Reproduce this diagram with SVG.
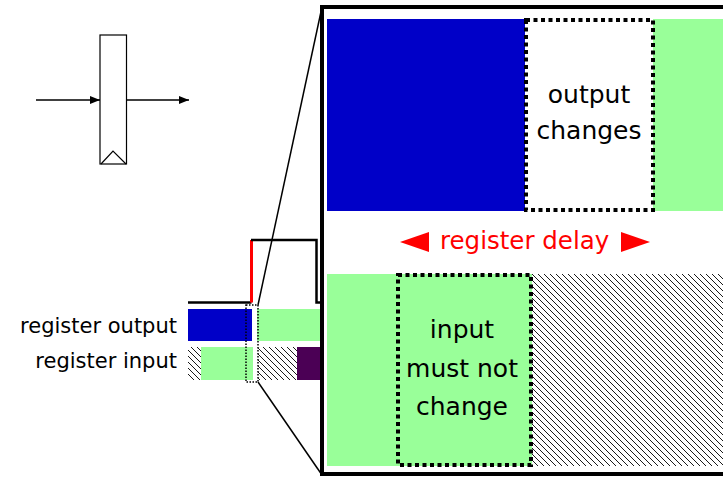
<svg xmlns="http://www.w3.org/2000/svg" width="723" height="479" viewBox="0 0 723 479">
  <style>
    .lbl { font-family: "DejaVu Sans", "Liberation Sans", sans-serif; fill: #000; }
    .big { font-size: 25px; text-anchor: middle; }
    .side { font-size: 21px; text-anchor: end; }
    .red { font-family: "DejaVu Sans", "Liberation Sans", sans-serif; font-size: 24.5px; fill: #ff0000; }
    .green { fill: #99ff99; }
    .blue { fill: #0000c8; }
    .hatch { fill: url(#hatch); }
    .thick-dots { fill: none; stroke: #000; stroke-width: 4; stroke-dasharray: 4 3.5; }
    .wire { fill: none; stroke: #000; stroke-width: 1.5; }
  </style>
  <defs>
    <pattern id="hatch" patternUnits="userSpaceOnUse" width="6" height="6">
      <path d="M-1,-1 L7,7 M-1,5 L1,7 M5,-1 L7,1" stroke="#000" stroke-width="0.9"/>
    </pattern>
    <marker id="arr" viewBox="0 0 10 8" refX="10" refY="4" markerWidth="10" markerHeight="8" markerUnits="userSpaceOnUse" orient="auto">
      <path d="M0,0 L10,4 L0,8 Z" fill="#000"/>
    </marker>
  </defs>

  <!-- register symbol -->
  <g id="register">
    <rect x="100" y="35" width="26.5" height="129" fill="#fff" stroke="#000" stroke-width="1.2"/>
    <path d="M101,164 L113,151 L126,164" fill="none" stroke="#000" stroke-width="1.2"/>
  </g>

  <!-- timing rows -->
  <g id="clock">
    <path d="M188,302.5 L251.5,302.5" fill="none" stroke="#000" stroke-width="2.5"/>
    <path d="M251.5,302.5 L251.5,240" fill="none" stroke="#ff0000" stroke-width="3"/>
    <path d="M251,240 L316.5,240 L316.5,302.5 L322,302.5" fill="none" stroke="#000" stroke-width="2.5"/>
  </g>

  <g id="row-output">
    <text class="lbl side" x="177" y="333">register output</text>
    <rect class="blue" x="188" y="309" width="64" height="32"/>
    <rect class="green" x="257" y="309" width="63" height="32"/>
  </g>

  <g id="row-input">
    <text class="lbl side" x="177" y="368">register input</text>
    <rect class="hatch" x="188" y="347" width="13" height="33"/>
    <rect class="green" x="201" y="347" width="52" height="33"/>
    <rect class="hatch" x="258" y="347" width="39" height="33"/>
    <rect x="297" y="347" width="23" height="33" fill="#4b0055"/>
  </g>

  <!-- small window and magnified view -->
  <g id="window">
    <rect x="246" y="305" width="12" height="77" fill="none" stroke="#000" stroke-width="1.5" stroke-dasharray="1.5 1.5"/>
  </g>

  <g id="zoom-view">
    <rect x="322" y="7" width="410" height="467" fill="#fff" stroke="#000" stroke-width="4"/>
    <rect class="blue" x="327" y="19" width="198" height="192"/>
    <rect class="green" x="653" y="19" width="75" height="192"/>
    <rect class="thick-dots" x="526" y="20" width="127" height="190"/>
    <text class="lbl big" x="589" y="103">output</text>
    <text class="lbl big" x="589" y="139">changes</text>

    <rect class="green" x="327" y="274" width="205" height="192"/>
    <rect class="hatch" x="532" y="274" width="196" height="192"/>
    <rect class="thick-dots" x="398" y="275" width="133" height="190"/>
    <text class="lbl big" x="462" y="338">input</text>
    <text class="lbl big" x="462" y="377">must not</text>
    <text class="lbl big" x="462" y="415">change</text>

    <path d="M400,242 L429,232 L429,252 Z" fill="#ff0000"/>
    <text class="red" x="440" y="249">register delay</text>
    <path d="M650,242 L621,232 L621,252 Z" fill="#ff0000"/>
  </g>

  <!-- connectors -->
  <g id="connectors">
    <line class="wire" x1="36" y1="100" x2="100" y2="100" marker-end="url(#arr)"/>
    <line class="wire" x1="126.5" y1="100" x2="189" y2="100" marker-end="url(#arr)"/>
    <line x1="258" y1="305" x2="322" y2="7" stroke="#000" stroke-width="1.5"/>
    <line x1="258" y1="382" x2="322" y2="475" stroke="#000" stroke-width="1.5"/>
  </g>
</svg>
